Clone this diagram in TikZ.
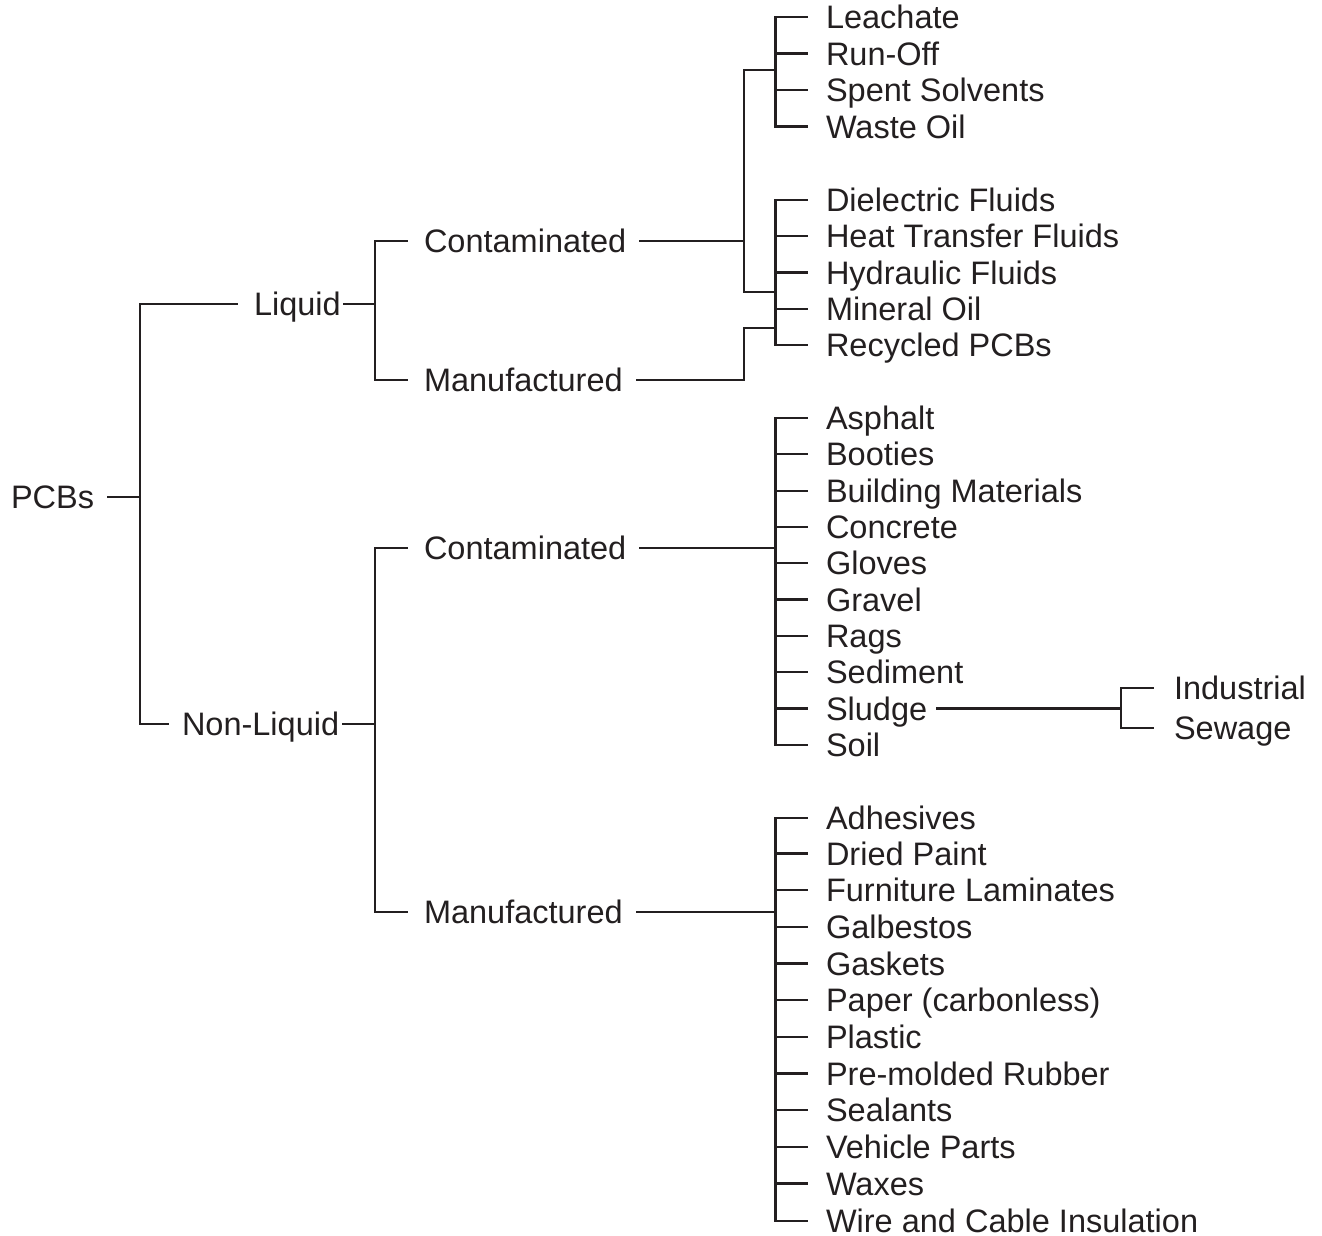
\documentclass[tikz,border=0pt]{standalone}
\usepackage{fontspec}
\setmainfont{Liberation Sans}
\usetikzlibrary{calc}
\definecolor{ink}{HTML}{231F20}
\begin{document}
\begin{tikzpicture}[x=1pt,y=-1pt,
  lbl/.style={anchor=west,inner xsep=0pt,inner ysep=0pt,outer sep=0pt,
    text height=23.3pt,text depth=0pt,text=ink,font=\fontsize{32.5}{39}\selectfont},
  conn/.style={draw=ink,line width=2.2pt,line cap=rect}]
\useasboundingbox (0,0) rectangle (1322,1236);

% main nodes
\node[lbl] (pcbs) at (11,497) {PCBs};
\node[lbl] (liq) at (254,304) {Liquid};
\node[lbl] (nliq) at (182,724) {Non-Liquid};
\node[lbl] (lc) at (424,241) {Contaminated};
\node[lbl] (lm) at (424,380) {Manufactured};
\node[lbl] (nc) at (424,548) {Contaminated};
\node[lbl] (nm) at (424,912) {Manufactured};

% junction coordinates
\coordinate (j0) at (140,497);
\coordinate (j1) at (375,304);
\coordinate (j2) at (375,724);
\coordinate (k1) at (744,241);
\coordinate (k1top) at (744,70);
\coordinate (k1bot) at (744,292);
\coordinate (k2) at (744,380);
\coordinate (k3) at (744,328);
\coordinate (xb) at (775.5,0);
\coordinate (s1) at (1121,0);

% leaves
\foreach \y/\t [count=\i] in {17/Leachate,53.5/Run-Off,90/Spent Solvents,126.5/Waste Oil}
  {\node[lbl] (la\i) at (826,\y) {\t};
   \draw[conn,shorten >=19pt] (la\i.west -| xb) -- (la\i.west);}
\foreach \y/\t [count=\i] in {200/Dielectric Fluids,236.3/Heat Transfer Fluids,272.5/Hydraulic Fluids,308.8/Mineral Oil,345/Recycled PCBs}
  {\node[lbl] (lb\i) at (826,\y) {\t};
   \draw[conn,shorten >=19pt] (lb\i.west -| xb) -- (lb\i.west);}
\foreach \y/\t [count=\i] in {418/Asphalt,454.3/Booties,490.6/Building Materials,526.9/Concrete,563.2/Gloves,599.5/Gravel,635.8/Rags,672.1/Sediment,708.4/Sludge,744.7/Soil}
  {\node[lbl] (nca\i) at (826,\y) {\t};
   \draw[conn,shorten >=19pt] (nca\i.west -| xb) -- (nca\i.west);}
\foreach \y/\t [count=\i] in {818/Adhesives,853.5/Dried Paint,890/Furniture Laminates,927/Galbestos,963.5/Gaskets,1000/Paper (carbonless),1037/Plastic,1073.5/Pre-molded Rubber,1110/Sealants,1147/Vehicle Parts,1183.5/Waxes,1221/Wire and Cable Insulation}
  {\node[lbl] (nma\i) at (826,\y) {\t};
   \draw[conn,shorten >=19pt] (nma\i.west -| xb) -- (nma\i.west);}
\node[lbl] (ind) at (1174,688) {Industrial};
\node[lbl] (sew) at (1174,728) {Sewage};

% leaf brackets
\draw[conn] (la1.west -| xb) -- (la4.west -| xb);
\draw[conn] (lb1.west -| xb) -- (lb5.west -| xb);
\draw[conn] (nca1.west -| xb) -- (nca10.west -| xb);
\draw[conn] (nma1.west -| xb) -- (nma12.west -| xb);

% upper levels
\draw[conn,shorten <=14pt] (pcbs.east) -- (j0);
\draw[conn,shorten >=17pt] (j0) |- (liq.west);
\draw[conn,shorten >=14pt] (j0) |- (nliq.west);
\draw[conn,shorten <=3pt] (liq.east) -- (j1);
\draw[conn,shorten >=17pt] (j1) |- (lc.west);
\draw[conn,shorten >=17pt] (j1) |- (lm.west);
\draw[conn,shorten <=4pt] (nliq.east) -- (j2);
\draw[conn,shorten >=17pt] (j2) |- (nc.west);
\draw[conn,shorten >=17pt] (j2) |- (nm.west);

% liquid connectors
\draw[conn,shorten <=14pt] (lc.east) -- (k1);
\draw[conn] (k1top -| xb) -- (k1top) -- (k1bot) -- (k1bot -| xb);
\draw[conn,shorten <=14pt] (lm.east) -- (k2) -- (k3) -- (k3 -| xb);

% non-liquid connectors
\draw[conn,shorten <=14pt] (nc.east) -- (nc.east -| xb);
\draw[conn,shorten <=14pt] (nm.east) -- (nm.east -| xb);

% sludge sub-branch
\draw[conn,shorten <=10pt] (nca9.east) -- (nca9.east -| s1);
\draw[conn] (ind.west -| s1) -- (sew.west -| s1);
\draw[conn,shorten >=21pt] (ind.west -| s1) -- (ind.west);
\draw[conn,shorten >=21pt] (sew.west -| s1) -- (sew.west);
\end{tikzpicture}
\end{document}
